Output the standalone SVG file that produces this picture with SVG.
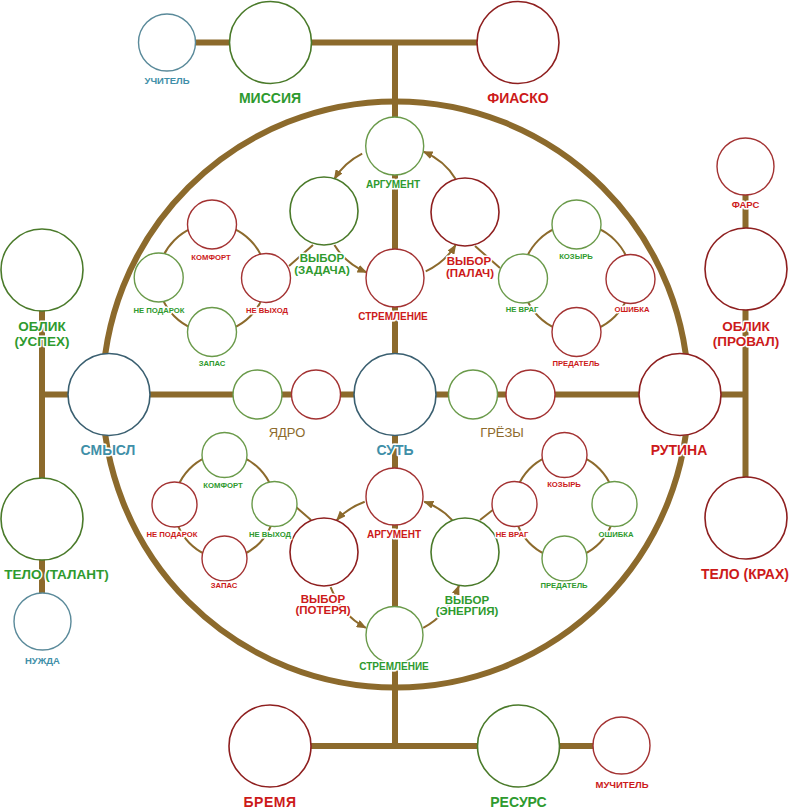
<svg xmlns="http://www.w3.org/2000/svg" width="807" height="810" viewBox="0 0 807 810">
<defs>
<marker id="ah" viewBox="0 0 10 8" refX="9" refY="4" markerWidth="10" markerHeight="8" markerUnits="userSpaceOnUse" orient="auto">
<path d="M0,0 L10,4 L0,8 z" fill="#8c6a2c"/>
</marker>
<style>
.thick{fill:none;stroke:#8c6a2c;stroke-width:6}
.thin{fill:none;stroke:#8c6a2c;stroke-width:2}
.arr{fill:none;stroke:#8c6a2c;stroke-width:2;marker-end:url(#ah)}
circle.cg{fill:#fff;stroke:#4a7a2a;stroke-width:1.6}
circle.cr{fill:#fff;stroke:#8e1f1f;stroke-width:1.6}
circle.ct{fill:#fff;stroke:#3a5f70;stroke-width:1.6}
circle.sg{fill:#fff;stroke:#6a9a4a;stroke-width:1.4}
circle.sr{fill:#fff;stroke:#a33232;stroke-width:1.4}
circle.st{fill:#fff;stroke:#5a8a9a;stroke-width:1.4}
text{font-family:"Liberation Sans",Arial,sans-serif;font-weight:bold;text-anchor:middle;paint-order:stroke;stroke:#fff;stroke-width:3;stroke-linejoin:round}
.tg{fill:#2e9a2e}.tr{fill:#cc1a1a}.tt{fill:#3f8fa8}.tb{fill:#8c6a2c;font-weight:normal}
.f14{font-size:14px}.f135{font-size:13.5px}.f13{font-size:13px}.f11{font-size:11.5px}.f10{font-size:10px}.f9{font-size:9.5px}.f7{font-size:7.7px}
</style>
</defs>
<rect width="807" height="810" fill="#fff"/>
<g id="connectors">
<circle class="thick" cx="395.5" cy="394.5" r="293"/>
<path class="thick" d="M167 42.5 H518 M395 42.5 V746 M42 394.5 H745.5 M42 270 V621.5 M745.5 166.5 V518 M270 746 H621.5"/>
<ellipse class="thin" cx="212.3" cy="278.2" rx="53.7" ry="53.7"/>
<ellipse class="thin" cx="576.7" cy="278.3" rx="54" ry="54"/>
<ellipse class="thin" cx="224.5" cy="506" rx="50" ry="52"/>
<ellipse class="thin" cx="564.5" cy="506" rx="50" ry="52"/>
<path class="thin" d="M289 266 L313 245 M475 246 L500 268 M296 507 L311 520 M480 520 L494 509"/>
<path class="arr" d="M362.2 153.7 A70 66 0 0 0 334.4 179"/>
<path class="arr" d="M334.4 245 A70 66 0 0 0 366.5 272.3"/>
<path class="arr" d="M425.7 271.3 A70 66 0 0 0 455.6 245"/>
<path class="arr" d="M455.6 179 A70 66 0 0 0 423.5 151.7"/>
<path class="arr" d="M364.7 501.7 A70.5 55.5 0 0 0 336.8 520.1"/>
<path class="arr" d="M330.6 587.1 A70.5 83 0 0 0 365.8 627.8"/>
<path class="arr" d="M423.2 627.8 A70.5 83 0 0 0 458.9 585.8"/>
<path class="arr" d="M452.2 520.1 A70.5 55.5 0 0 0 424.3 501.7"/>
</g>
<g id="n-uchitel"><circle class="st" cx="167" cy="42.5" r="28.5"/><text class="tt f9" x="167" y="84">УЧИТЕЛЬ</text></g>
<g id="n-missiya"><circle class="cg" cx="270.5" cy="42.5" r="41"/><text class="tg f14" x="270" y="103">МИССИЯ</text></g>
<g id="n-fiasko"><circle class="cr" cx="518" cy="42.5" r="41"/><text class="tr f14" x="518" y="103">ФИАСКО</text></g>
<g id="n-argument-top"><circle class="sg" cx="394.7" cy="146" r="29"/><text class="tg f10" x="393" y="188">АРГУМЕНТ</text></g>
<g id="n-vybor-zadacha"><circle class="cg" cx="324" cy="211" r="34"/><text class="tg f11" x="322" y="262">ВЫБОР<tspan x="322" dy="12">(ЗАДАЧА)</tspan></text></g>
<g id="n-vybor-palach"><circle class="cr" cx="465" cy="212" r="34"/><text class="tr f11" x="469" y="265">ВЫБОР<tspan x="470" dy="12">(ПАЛАЧ)</tspan></text></g>
<g id="n-stremlenie-top"><circle class="sr" cx="395" cy="278" r="29"/><text class="tr f10" x="393" y="320">СТРЕМЛЕНИЕ</text></g>
<g id="n-komfort-tl"><circle class="sr" cx="212" cy="224.5" r="24.5"/><text class="tr f7" x="211" y="260">КОМФОРТ</text></g>
<g id="n-nepodarok-tl"><circle class="sg" cx="158.7" cy="277.5" r="24.5"/><text class="tg f7" x="159" y="312.5">НЕ ПОДАРОК</text></g>
<g id="n-nevyhod-tl"><circle class="sr" cx="266" cy="278" r="24.5"/><text class="tr f7" x="267" y="312.5">НЕ ВЫХОД</text></g>
<g id="n-zapas-tl"><circle class="sg" cx="212" cy="332" r="24.5"/><text class="tg f7" x="212" y="366">ЗАПАС</text></g>
<g id="n-kozyr-tr"><circle class="sg" cx="576.5" cy="224.5" r="24.5"/><text class="tg f7" x="576" y="258.5">КОЗЫРЬ</text></g>
<g id="n-nevrag-tr"><circle class="sg" cx="523" cy="278.5" r="24.5"/><text class="tg f7" x="522" y="312">НЕ ВРАГ</text></g>
<g id="n-oshibka-tr"><circle class="sr" cx="630.5" cy="279" r="24.5"/><text class="tr f7" x="632" y="312">ОШИБКА</text></g>
<g id="n-predatel-tr"><circle class="sr" cx="576.5" cy="332" r="24.5"/><text class="tr f7" x="576" y="366">ПРЕДАТЕЛЬ</text></g>
<g id="n-oblik-uspeh"><circle class="cg" cx="42" cy="270" r="41"/><text class="tg f135" x="42" y="330.5">ОБЛИК<tspan x="42" dy="15">(УСПЕХ)</tspan></text></g>
<g id="n-smysl"><circle class="ct" cx="109" cy="394.5" r="41"/><text class="tt f14" x="108" y="455">СМЫСЛ</text></g>
<g id="n-telo-talant"><circle class="cg" cx="42" cy="519" r="41"/><text class="tg f135" x="56.5" y="579">ТЕЛО (ТАЛАНТ)</text></g>
<g id="n-nuzhda"><circle class="st" cx="42.5" cy="621.5" r="28.5"/><text class="tt f9" x="42.5" y="664">НУЖДА</text></g>
<g id="n-yadro-g"><circle class="sg" cx="257.5" cy="394.5" r="24.5"/></g>
<g id="n-yadro-r"><circle class="sr" cx="316" cy="394.5" r="24.5"/><text class="tb f13" x="287" y="437">ЯДРО</text></g>
<g id="n-sut"><circle class="ct" cx="395" cy="394.5" r="41"/><text class="tt f14" x="395" y="455">СУТЬ</text></g>
<g id="n-grezy-g"><circle class="sg" cx="473" cy="394.5" r="24.5"/></g>
<g id="n-grezy-r"><circle class="sr" cx="530.5" cy="394.5" r="24.5"/><text class="tb f13" x="502" y="437">ГРЁЗЫ</text></g>
<g id="n-rutina"><circle class="cr" cx="680" cy="394.5" r="41"/><text class="tr f14" x="679" y="455">РУТИНА</text></g>
<g id="n-fars"><circle class="sr" cx="745.5" cy="166.5" r="28.5"/><text class="tr f9" x="745.5" y="208">ФАРС</text></g>
<g id="n-oblik-proval"><circle class="cr" cx="746" cy="269" r="41"/><text class="tr f135" x="746" y="330.5">ОБЛИК<tspan x="746" dy="15">(ПРОВАЛ)</tspan></text></g>
<g id="n-telo-krah"><circle class="cr" cx="746" cy="518" r="41"/><text class="tr f14" x="745" y="579">ТЕЛО (КРАХ)</text></g>
<g id="n-argument-bot"><circle class="sr" cx="394.5" cy="496.5" r="28.5"/><text class="tr f10" x="394" y="538">АРГУМЕНТ</text></g>
<g id="n-vybor-poterya"><circle class="cr" cx="324" cy="552" r="34"/><text class="tr f11" x="323" y="603">ВЫБОР<tspan x="323" dy="11">(ПОТЕРЯ)</tspan></text></g>
<g id="n-vybor-energiya"><circle class="cg" cx="465" cy="552" r="34"/><text class="tg f11" x="467" y="604">ВЫБОР<tspan x="467" dy="11">(ЭНЕРГИЯ)</tspan></text></g>
<g id="n-stremlenie-bot"><circle class="sg" cx="394.5" cy="635" r="28.5"/><text class="tg f10" x="394" y="670">СТРЕМЛЕНИЕ</text></g>
<g id="n-komfort-bl"><circle class="sg" cx="224.5" cy="455" r="22.5"/><text class="tg f7" x="223" y="487.5">КОМФОРТ</text></g>
<g id="n-nepodarok-bl"><circle class="sr" cx="174.5" cy="504.5" r="22.5"/><text class="tr f7" x="172" y="536.5">НЕ ПОДАРОК</text></g>
<g id="n-nevyhod-bl"><circle class="sg" cx="274.5" cy="504" r="22.5"/><text class="tg f7" x="270" y="536.5">НЕ ВЫХОД</text></g>
<g id="n-zapas-bl"><circle class="sr" cx="224.5" cy="558.5" r="22.5"/><text class="tr f7" x="224" y="587.5">ЗАПАС</text></g>
<g id="n-kozyr-br"><circle class="sr" cx="564.5" cy="455" r="22.5"/><text class="tr f7" x="564" y="486.5">КОЗЫРЬ</text></g>
<g id="n-nevrag-br"><circle class="sr" cx="514.5" cy="504" r="22.5"/><text class="tr f7" x="512" y="536.5">НЕ ВРАГ</text></g>
<g id="n-oshibka-br"><circle class="sg" cx="614.5" cy="504" r="22.5"/><text class="tg f7" x="616" y="536.5">ОШИБКА</text></g>
<g id="n-predatel-br"><circle class="sg" cx="564.5" cy="558.5" r="22.5"/><text class="tg f7" x="564" y="587.5">ПРЕДАТЕЛЬ</text></g>
<g id="n-bremya"><circle class="cr" cx="270" cy="746" r="41"/><text class="tr f14" x="270" y="807" style="letter-spacing:0.5px">БРЕМЯ</text></g>
<g id="n-resurs"><circle class="cg" cx="518.5" cy="746" r="41"/><text class="tg f14" x="518.5" y="807">РЕСУРС</text></g>
<g id="n-muchitel"><circle class="sr" cx="621.5" cy="745.5" r="28.5"/><text class="tr f9" x="622" y="788">МУЧИТЕЛЬ</text></g>
</svg>
